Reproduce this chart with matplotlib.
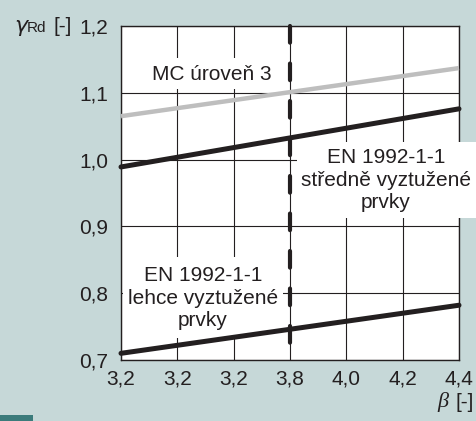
import matplotlib
matplotlib.use("Agg")
import matplotlib.pyplot as plt
from matplotlib.patches import Rectangle

# ---- data ----
beta = [3.2, 4.4]
mc_level3 = [1.065, 1.137]
en_medium = [0.989, 1.076]
en_light = [0.710, 0.782]
beta_target = 3.8
x_ticks = [3.2, 3.4, 3.6, 3.8, 4.0, 4.2, 4.4]
x_ticklabels = ["3,2", "3,2", "3,2", "3,8", "4,0", "4,2", "4,4"]
y_ticks = [0.7, 0.8, 0.9, 1.0, 1.1, 1.2]
y_ticklabels = ["0,7", "0,8", "0,9", "1,0", "1,1", "1,2"]

BG = "#c6d8d8"
BLACK = "#231f20"
GREY = "#bebebe"
FS = 15

plt.rcParams['font.family'] = ['Liberation Sans', 'DejaVu Sans']
plt.rcParams['lines.scale_dashes'] = False

W, H = 477, 421
fig = plt.figure(figsize=(W / 100, H / 100), dpi=100, facecolor=BG)
ax = fig.add_axes([121 / W, 1 - 360 / H, 338 / W, 334 / H])
ax.set_facecolor("white")

ax.set_xlim(3.2, 4.4)
ax.set_ylim(0.7, 1.2)
ax.set_xticks(x_ticks)
ax.set_xticklabels(x_ticklabels)
ax.set_yticks(y_ticks)
ax.set_yticklabels(y_ticklabels)
ax.tick_params(length=0, labelsize=FS, colors=BLACK)
ax.tick_params(axis='x', pad=7)
ax.tick_params(axis='y', pad=9)
ax.set_axisbelow(True)
ax.grid(True, color=BLACK, lw=0.8)
for s in ax.spines.values():
    s.set_color(BLACK)
    s.set_linewidth(1.0)

# white label boxes (pixel coords -> axes fraction)
def box(x0, y0, x1, y1):
    ax.add_patch(Rectangle(((x0 - 121) / 338, (360 - y1) / 334),
                           (x1 - x0) / 338, (y1 - y0) / 334,
                           transform=ax.transAxes, facecolor="white",
                           edgecolor="none", zorder=2.6, clip_on=False))

box(140, 58, 283, 89)
box(297, 142, 477, 218)
box(123, 257, 283, 338)

ax.plot(beta, mc_level3, color=GREY, lw=3.2, solid_capstyle='butt', zorder=3, clip_on=False)
ax.plot(beta, en_medium, color=BLACK, lw=3.6, solid_capstyle='round', zorder=3, clip_on=False)
ax.plot(beta, en_light, color=BLACK, lw=3.6, solid_capstyle='round', zorder=3, clip_on=False)
# dash pattern in points
ax.plot([beta_target, beta_target], [1.2, 0.706], color=BLACK, lw=3.0,
        linestyle=(0, (12.0, 15.0)), dash_capstyle='round', zorder=3.5, clip_on=False)

def txt(xp, yp, s):
    ax.text((xp - 121) / 338, (360 - yp) / 334, s, transform=ax.transAxes,
            ha='center', va='center', fontsize=FS, color=BLACK,
            linespacing=1.25, zorder=4)

txt(212, 75, "MC úroveň 3")
txt(386, 180, "EN 1992-1-1\nstředně vyztužené\nprvky")
txt(203, 298, "EN 1992-1-1\nlehce vyztužené\nprvky")

fig.text(14 / W, 1 - 26 / H, "γ", ha='left', va='center', fontsize=FS + 1,
         color=BLACK, family='DejaVu Sans', style='italic')
fig.text(27 / W, 1 - 28 / H, "Rd", ha='left', va='center', fontsize=FS - 4, color=BLACK)
fig.text(72 / W, 1 - 26 / H, "[-]", ha='right', va='center', fontsize=FS, color=BLACK)

fig.text(448 / W, 1 - 402 / H, "β", ha='right', va='center', fontsize=FS + 1,
         color=BLACK, family='Liberation Serif', style='italic')
fig.text(474 / W, 1 - 402 / H, "[-]", ha='right', va='center', fontsize=FS, color=BLACK)

fig.patches.append(Rectangle((0, 0), 33 / W, 6 / H, transform=fig.transFigure,
                             facecolor="#3b7b7b", edgecolor="none"))

fig.savefig("out.png", dpi=100, facecolor=BG)
